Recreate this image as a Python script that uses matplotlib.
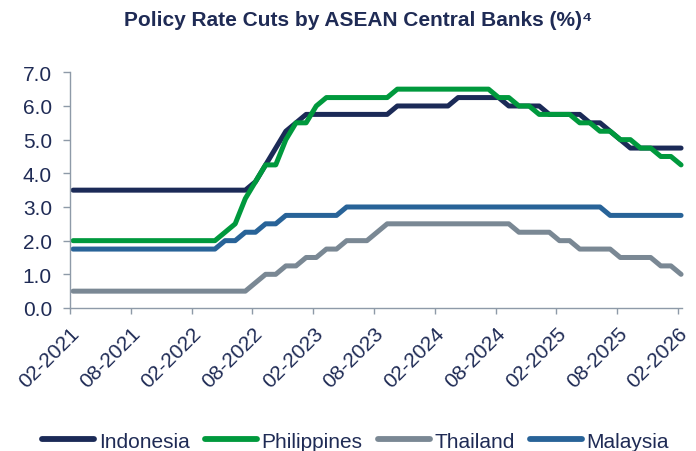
"""
Policy rate paths of four ASEAN central banks, monthly, 02-2021 .. 02-2026.
"""
import matplotlib
matplotlib.use("Agg")
import matplotlib.pyplot as plt
import numpy as np

plt.rcParams["font.family"] = ["Liberation Sans", "DejaVu Sans"]

# month labels: one entry per data point (month-end values)
MONTHS = [f"{(1 + i) % 12 + 1:02d}-{2021 + (1 + i) // 12}" for i in range(61)]

INDONESIA = ([3.5] * 18 + [3.75, 4.25, 4.75, 5.25, 5.5] + [5.75] * 9 + [6.0] * 6
             + [6.25] * 5 + [6.0] * 4 + [5.75] * 4 + [5.5] * 2 + [5.25, 5.0]
             + [4.75] * 6)
PHILIPPINES = ([2.0] * 15 + [2.25, 2.5, 3.25, 3.75] + [4.25] * 2 + [5.0]
               + [5.5] * 2 + [6.0] + [6.25] * 7 + [6.5] * 10 + [6.25] * 2
               + [6.0] * 2 + [5.75] * 4 + [5.5] * 2 + [5.25] * 2 + [5.0] * 2
               + [4.75] * 2 + [4.5] * 2 + [4.25])
THAILAND = ([0.5] * 18 + [0.75] + [1.0] * 2 + [1.25] * 2 + [1.5] * 2 + [1.75] * 2
            + [2.0] * 3 + [2.25] + [2.5] * 13 + [2.25] * 4 + [2.0] * 2
            + [1.75] * 4 + [1.5] * 4 + [1.25] * 2 + [1.0])
MALAYSIA = ([1.75] * 15 + [2.0] * 2 + [2.25] * 2 + [2.5] * 2 + [2.75] * 6
            + [3.0] * 26 + [2.75] * 8)

SERIES = [
    ("Indonesia", INDONESIA, "#1b2a57"),
    ("Philippines", PHILIPPINES, "#00993d"),
    ("Thailand", THAILAND, "#7a8894"),
    ("Malaysia", MALAYSIA, "#286398"),
]

C_TEXT  = "#1f2b55"
C_SPINE = "#8e9aa8"

fig = plt.figure(figsize=(6.96, 4.52), dpi=100)
ax = fig.add_axes([0.1006, 0.3164, 0.8794, 0.5214])

x = np.arange(len(MONTHS)) + 0.3
for name, vals, col in SERIES:
    ax.plot(x, vals, color=col, lw=3.6, label=name, solid_capstyle="round",
            solid_joinstyle="round", clip_on=False)

ax.set_ylim(0, 7)
ax.set_yticks(np.arange(0, 7.1, 1.0))
ax.set_yticklabels([f"{v:.1f}" for v in np.arange(0, 7.1, 1.0)])
ax.set_xlim(0, 60.4)
tick_idx = list(range(0, 61, 6))
ax.set_xticks(tick_idx)
ax.set_xticklabels([MONTHS[i] for i in tick_idx], rotation=45, ha="right",
                   va="top", rotation_mode="anchor")

for s in ("top", "right"):
    ax.spines[s].set_visible(False)
for s in ("left", "bottom"):
    ax.spines[s].set_color(C_SPINE)
    ax.spines[s].set_linewidth(1.0)
ax.tick_params(axis="y", colors=C_SPINE, labelcolor=C_TEXT, labelsize=15,
               length=5, width=1.0, pad=8)
ax.tick_params(axis="x", colors=C_SPINE, labelcolor=C_TEXT, labelsize=15,
               length=4, width=1.0, pad=7)

fig.text(0.514, 0.955, "Policy Rate Cuts by ASEAN Central Banks (%)\u2074",
         ha="center", va="center", fontsize=15, fontweight="bold", color=C_TEXT)

leg = fig.legend(loc="center", bbox_to_anchor=(0.511, 0.022), ncol=4,
                 frameon=False, fontsize=15, handlelength=2.5,
                 handletextpad=0.2, columnspacing=0.75, labelcolor=C_TEXT)
for h in leg.get_lines():
    h.set_linewidth(4.2)
    h.set_solid_capstyle("round")

fig.savefig("out.png", dpi=100)
